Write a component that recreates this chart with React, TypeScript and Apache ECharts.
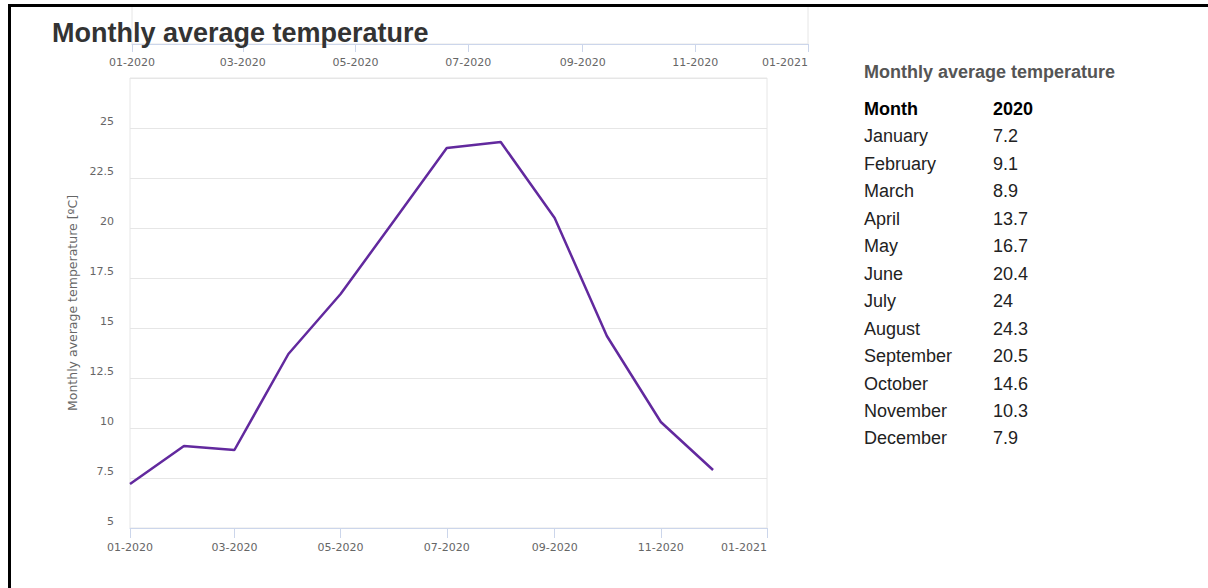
import React, { useEffect, useRef } from "react";
import * as echarts from "echarts";

const monthNames = [
  "January", "February", "March", "April", "May", "June",
  "July", "August", "September", "October", "November", "December",
];
const temps2020 = [7.2, 9.1, 8.9, 13.7, 16.7, 20.4, 24, 24.3, 20.5, 14.6, 10.3, 7.9];
const seriesYear = "2020";
const chartTitle = "Monthly average temperature";
const yAxisName = "Monthly average temperature [ºC]";
const yMin = 5;
const yMax = 27.5;
const yStep = 2.5;

const FONT = '"Liberation Sans", Arial, sans-serif';
const AXFONT = '"DejaVu Sans", sans-serif';

export default function App() {
  const ref = useRef<HTMLDivElement>(null);
  useEffect(() => {
    if (!ref.current) return;
    const chart = echarts.init(ref.current, undefined, { renderer: "svg" });
    const pts = temps2020.map((v, i) => [new Date(2020, i, 1).getTime(), v]);
    const tMin = new Date(2020, 0, 1).getTime();
    const tMax = new Date(2021, 0, 1).getTime();

    const tableX1 = 864;
    const tableX2 = 993;
    const rowH = 27.45;
    const headerY = 109;
    const graphic: any[] = [
      { type: "rect", shape: { x: 8, y: 4, width: 1200, height: 3 }, style: { fill: "#000" }, z: 100 },
      { type: "rect", shape: { x: 8, y: 4, width: 3, height: 584 }, style: { fill: "#000" }, z: 100 },
      {
        type: "text", x: tableX1, y: 72,
        style: { text: chartTitle, font: `bold 18px ${FONT}`, fill: "#555", verticalAlign: "middle" },
      },
      {
        type: "text", x: tableX1, y: headerY,
        style: { text: "Month", font: `bold 18px ${FONT}`, fill: "#000", verticalAlign: "middle" },
      },
      {
        type: "text", x: tableX2, y: headerY,
        style: { text: seriesYear, font: `bold 18px ${FONT}`, fill: "#000", verticalAlign: "middle" },
      },
    ];
    monthNames.forEach((m, i) => {
      const y = headerY + rowH * (i + 1);
      graphic.push({
        type: "text", x: tableX1, y,
        style: { text: m, font: `18px ${FONT}`, fill: "#222", verticalAlign: "middle" },
      });
      graphic.push({
        type: "text", x: tableX2, y,
        style: { text: String(temps2020[i]), font: `18px ${FONT}`, fill: "#222", verticalAlign: "middle" },
      });
    });

    const axisLabelStyle = { fontFamily: AXFONT, fontSize: 11, color: "#666" };

    chart.setOption({
      animation: false,
      backgroundColor: "#fff",
      title: {
        text: chartTitle,
        left: 52,
        top: 19,
        padding: 0,
        textStyle: { fontFamily: FONT, fontSize: 27, fontWeight: "bold", color: "#333" },
      },
      grid: [
        {
          left: 130, right: 441, top: 78, bottom: 60,
          show: true, borderColor: "#e6e6e6", borderWidth: 1,
          outerBoundsMode: "none", containLabel: false,
        },
        {
          left: 132, right: 400, top: 5, height: 39,
          show: true, borderColor: "#e6e6e6", borderWidth: 1,
          outerBoundsMode: "none", containLabel: false,
        },
      ],
      xAxis: [
        {
          type: "time", gridIndex: 0, min: tMin, max: tMax, splitNumber: 6,
          axisLine: { show: true, lineStyle: { color: "#ccd6eb" } },
          axisTick: { show: true, length: 10, lineStyle: { color: "#ccd6eb" } },
          splitLine: { show: false },
          axisLabel: {
            ...axisLabelStyle, formatter: "{MM}-{yyyy}", margin: 14,
            showMinLabel: true, showMaxLabel: true, alignMaxLabel: "right", hideOverlap: false,
          },
        },
        {
          type: "time", gridIndex: 1, min: tMin, max: tMax, splitNumber: 6,
          axisLine: { show: true, lineStyle: { color: "#ccd6eb" } },
          axisTick: { show: true, length: 8, lineStyle: { color: "#ccd6eb" } },
          splitLine: { show: false },
          axisLabel: {
            ...axisLabelStyle, formatter: "{MM}-{yyyy}", margin: 13,
            showMinLabel: true, showMaxLabel: true, alignMaxLabel: "right", hideOverlap: false,
          },
        },
      ],
      yAxis: [
        {
          type: "value", gridIndex: 0, min: yMin, max: yMax, interval: yStep,
          name: yAxisName, nameLocation: "middle", nameGap: 50,
          nameTextStyle: { fontFamily: AXFONT, fontSize: 12.5, color: "#666" },
          axisLine: { show: false },
          axisTick: { show: false },
          splitLine: { show: true, lineStyle: { color: "#e6e6e6" } },
          axisLabel: {
            ...axisLabelStyle, margin: 16,
            verticalAlign: "bottom", padding: [0, 0, 1, 0],
            formatter: (v: number) => (v >= yMax ? "" : String(v)),
          },
        },
        {
          type: "value", gridIndex: 1, min: 0, max: 1,
          show: false,
        },
      ],
      series: [
        {
          type: "line", xAxisIndex: 0, yAxisIndex: 0, data: pts,
          showSymbol: false, symbol: "none",
          lineStyle: { color: "#62299e", width: 2.5 },
          itemStyle: { color: "#62299e" },
        },
        {
          type: "line", xAxisIndex: 1, yAxisIndex: 1, data: [],
          showSymbol: false, symbol: "none",
        },
      ],
      graphic,
    });
    return () => chart.dispose();
  }, []);
  return (
    <div
      ref={ref}
      style={{ position: "fixed", left: 0, top: 0, width: 1208, height: 588 }}
    />
  );
}
